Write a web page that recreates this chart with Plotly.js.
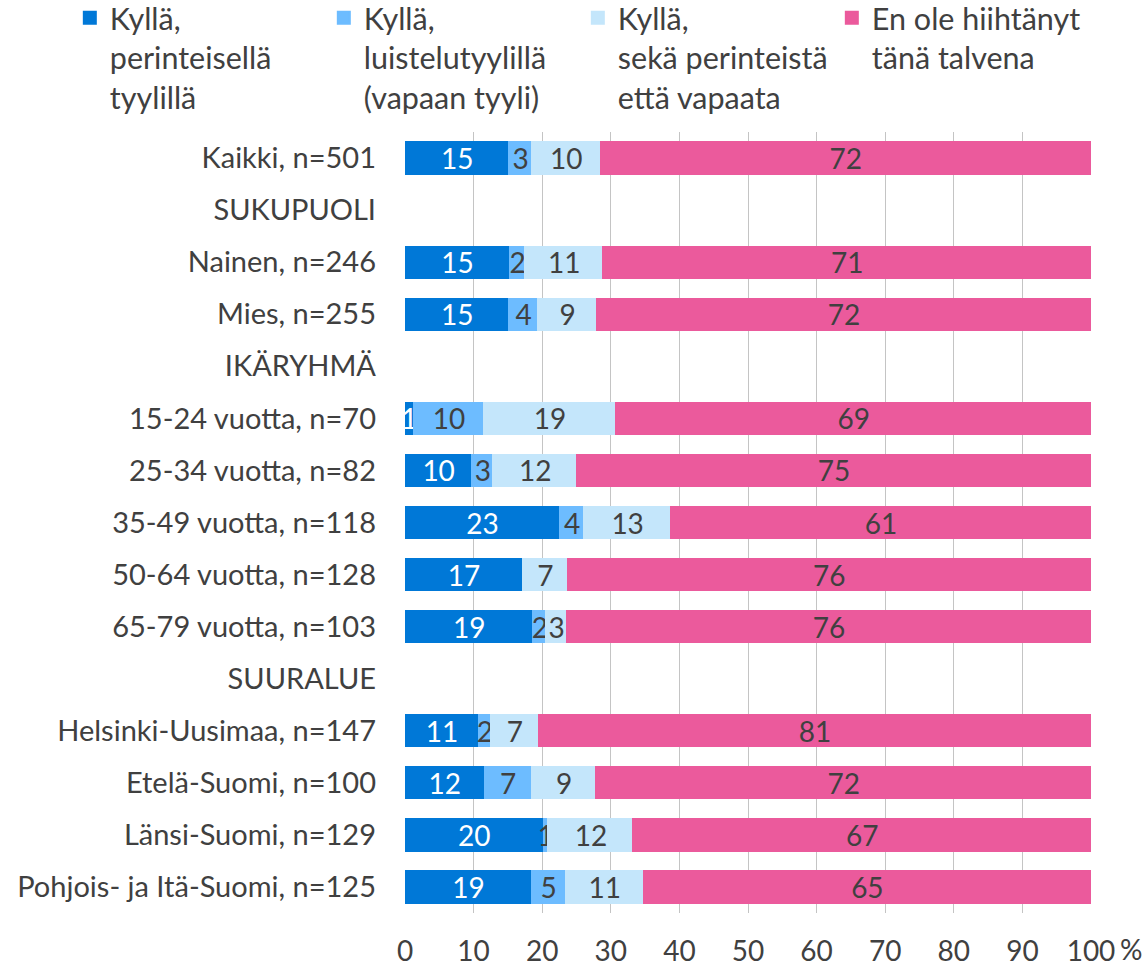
<!DOCTYPE html>
<html>
<head>
<meta charset="utf-8">
<script src="https://cdn.plot.ly/plotly-3.0.1.min.js"></script>
<style>html,body{margin:0;padding:0;background:#fff;}#chart{width:1145px;height:968px;}</style>
</head>
<body>
<div id="chart"></div>
<script>
const categories = [
  "Kaikki, n=501", "SUKUPUOLI", "Nainen, n=246", "Mies, n=255", "IKÄRYHMÄ",
  "15-24 vuotta, n=70", "25-34 vuotta, n=82", "35-49 vuotta, n=118", "50-64 vuotta, n=128",
  "65-79 vuotta, n=103", "SUURALUE", "Helsinki-Uusimaa, n=147", "Etelä-Suomi, n=100",
  "Länsi-Suomi, n=129", "Pohjois- ja Itä-Suomi, n=125"
];
const seriesNames = [
  "Kyllä,<br>perinteisellä<br>tyylillä",
  "Kyllä,<br>luistelutyylillä<br>(vapaan tyyli)",
  "Kyllä,<br>sekä perinteistä<br>että vapaata",
  "En ole hiihtänyt<br>tänä talvena"
];
const perinteinen = [15.2, null, 15.3, 15.2, null, 1.3, 9.8, 22.6, 17.2, 18.7, null, 10.8, 11.6, 20.2, 18.5];
const luistelu    = [3.3, null, 2.2, 4.2, null, 10.2, 3.1, 3.5, null, 1.9, null, 1.7, 6.9, 0.7, 4.9];
const molemmat    = [10.0, null, 11.4, 8.6, null, 19.3, 12.2, 12.7, 6.5, 3.0, null, 7.0, 9.4, 12.4, 11.4];
const eiHiihtanyt = [71.5, null, 71.1, 72.0, null, 69.2, 74.9, 61.2, 76.3, 76.4, null, 80.5, 72.1, 66.7, 65.2];
const tickValues = [0, 10, 20, 30, 40, 50, 60, 70, 80, 90, 100];
const tickLabels = ["0", "10", "20", "30", "40", "50", "60", "70", "80", "90", "100"];
const unitLabel = "%";

const colors = ["#0078d7", "#6dbcff", "#c4e6fb", "#eb5a9c"];
const textColors = ["#ffffff", "#404040", "#404040", "#404040"];
const FONT = "Lato, 'Open Sans', sans-serif";
const FS = 28;

const allSeries = [perinteinen, luistelu, molemmat, eiHiihtanyt];
const traces = allSeries.map((vals, i) => ({
  type: "bar",
  orientation: "h",
  name: seriesNames[i],
  y: categories,
  x: vals,
  text: vals.map(v => (v === null || v === undefined) ? "" : String(Math.round(v))),
  textposition: "inside",
  insidetextanchor: "middle",
  constraintext: "none",
  textangle: 0,
  cliponaxis: false,
  textfont: {family: FONT, size: FS, color: textColors[i]},
  marker: {color: colors[i], line: {width: 2, color: colors[i]}},
  hoverinfo: "name+x"
}));

const layout = {
  width: 1145,
  height: 968,
  barmode: "stack",
  bargap: 0.4,
  paper_bgcolor: "#ffffff",
  plot_bgcolor: "#ffffff",
  font: {family: FONT, size: FS, color: "#404040"},
  margin: {l: 405, r: 54, t: 132, b: 55, autoexpand: false},
  showlegend: true,
  legend: {
    orientation: "h",
    xref: "paper", yref: "paper",
    x: -0.4886, y: 1.18, xanchor: "left", yanchor: "top",
    valign: "top",
    traceorder: "normal",
    font: {family: FONT, size: 30.5, color: "#404040"},
    itemwidth: 30,
    entrywidth: 209,
    entrywidthmode: "pixels",
    tracegroupgap: 0
  },
  annotations: [{
    text: unitLabel,
    xref: "x", yref: "paper",
    x: 100, y: 0,
    xanchor: "left", yanchor: "top",
    xshift: 27, yshift: -17,
    showarrow: false,
    font: {family: FONT, size: FS, color: "#404040"}
  }],
  xaxis: {
    range: [0, 100],
    tickvals: tickValues,
    ticktext: tickLabels,
    showgrid: true,
    gridcolor: "#c4c4c4",
    gridwidth: 1,
    zeroline: false,
    showline: false,
    ticks: "",
    ticklabelstandoff: 19,
    tickfont: {family: FONT, size: FS, color: "#404040"},
    fixedrange: true
  },
  yaxis: {
    type: "category",
    autorange: "reversed",
    showgrid: false,
    zeroline: false,
    showline: false,
    ticks: "",
    ticklabelstandoff: 28,
    tickfont: {family: FONT, size: 29, color: "#404040"},
    fixedrange: true
  }
};

Plotly.newPlot("chart", traces, layout, {displayModeBar: false, staticPlot: true});
</script>
</body>
</html>
